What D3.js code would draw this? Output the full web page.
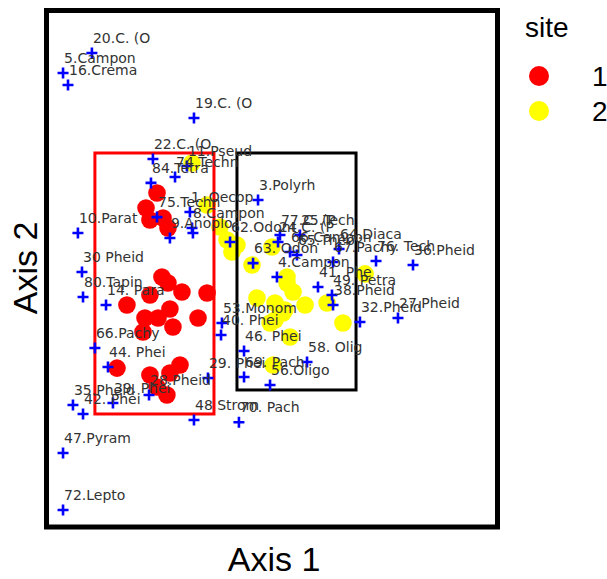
<!DOCTYPE html>
<html>
<head>
<meta charset="utf-8">
<script src="https://cdn.jsdelivr.net/npm/d3@7"></script>
<style>
  body { margin: 0; background: #fff; }
  .lab { font-family: "DejaVu Sans", sans-serif; font-size: 14px; fill: #333; }
  .title { font-family: "Liberation Sans", Arial, sans-serif; fill: #000; }
</style>
</head>
<body>
<div id="chart"></div>
<script>
// species scores (axis 1, axis 2) and their labels
var spLabels = ["20.C. (O","5.Campon","16.Crema","19.C. (O","22.C. (O","11.Pseud","74.Techn","84.Tetra",
  "75.Techn","1. Oecop","8.Campon","","9.Anoplo","10.Parat","30 Pheid","80.Tapin","14. Para","66.Pachy",
  "44. Phei","35.Pheid","42. Phei","39. Phei","28.Pheid","29. Phei","48 Strom","70. Pach","47.Pyram",
  "72.Lepto","53.Monom","40. Phei","46. Phei","58. Olig","69. Pach","56.Oligo","32.Pheid","27.Pheid",
  "36.Pheid","76. Tech","64.Diaca","67.Pachy","41. Phe","49. Petra","38.Pheid","3.Polyrh","62.Odont",
  "63. Odon","4.Campon","24.C. (P","77.C. (P","25.Tech","66.Campon","65.Theo"];
var spAxis1 = [-1.198,-1.39,-1.357,-0.519,-0.792,-0.566,-0.645,-0.805,
  -0.765,-0.546,-0.532,-0.526,-0.679,-1.291,-1.264,-1.257,-1.104,-1.178,
  -1.091,-1.324,-1.257,-1.058,-0.818,-0.426,-0.519,-0.22,-1.39,
  -1.39,-0.333,-0.339,-0.186,0.233,-0.186,-0.013,0.585,0.838,
  0.938,0.692,0.446,0.406,0.306,0.399,0.406,-0.093,-0.279,
  -0.126,0.033,0.04,0.053,0.186,0.12,0.166];
var spAxis2 = [1.42,1.289,1.21,0.992,0.722,0.676,0.604,0.565,
  0.34,0.374,0.268,0.235,0.202,0.235,-0.021,-0.186,-0.239,-0.522,
  -0.647,-0.897,-0.956,-0.884,-0.831,-0.719,-0.996,-1.01,-1.213,
  -1.588,-0.357,-0.436,-0.541,-0.614,-0.713,-0.765,-0.351,-0.324,
  0.025,0.051,0.13,0.044,-0.12,-0.173,-0.239,0.453,0.176,
  0.037,-0.054,0.176,0.222,0.222,0.11,0.091];

// site scores
var site1Axis1 = [-0.765,-0.838,-0.812,-0.725,-0.692,-0.732,-0.692,-0.599,-0.432,-0.812,-0.965,-0.679,
  -0.758,-0.845,-0.492,-0.659,-0.858,-0.612,-0.679,-0.812,-1.031,-0.765,-0.699];
var site1Axis2 = [0.499,0.4,0.321,0.334,0.268,-0.054,-0.094,-0.153,-0.16,-0.173,-0.239,-0.265,
  -0.324,-0.324,-0.324,-0.383,-0.416,-0.634,-0.686,-0.699,-0.654,-0.778,-0.831];
var site2Axis1 = [-0.532,-0.432,-0.346,-0.299,-0.233,-0.266,0,-0.133,0.1,0.14,0.1,-0.1,0.02,0.22,
  0.366,0.086,0.02,-0.013,0.472,0.12,0.007,0.619,0.073];
var site2Axis2 = [0.696,0.42,0.275,0.189,0.156,0.11,0.143,0.025,-0.054,-0.153,-0.094,-0.193,-0.225,
  -0.239,-0.225,-0.272,-0.337,-0.357,-0.357,-0.449,-0.634,-0.034,-0.291];

// site envelopes [x1, x2, y1, y2]
var box1 = [-1.178, -0.386, -0.956, 0.762];
var box2 = [-0.233, 0.559, -0.798, 0.762];

var siteNames = ["1", "2"];
var siteColors = ["#ff0000", "#ffff00"];

var width = 607, height = 579;

var svg = d3.select("#chart").append("svg")
  .attr("width", width)
  .attr("height", height);

var x = d3.scaleLinear().domain([-1.5, 1.5]).range([46.5, 497.5]);
var y = d3.scaleLinear().domain([-1.7, 1.7]).range([527, 10.5]);

var sites = [];
site1Axis1.forEach(function(v, i) { sites.push({a1: v, a2: site1Axis2[i], s: 0}); });
site2Axis1.forEach(function(v, i) { sites.push({a1: v, a2: site2Axis2[i], s: 1}); });

var species = spLabels.map(function(l, i) {
  return {label: l, a1: spAxis1[i], a2: spAxis2[i]};
});

svg.append("g").selectAll("circle")
  .data(sites)
  .enter().append("circle")
  .attr("cx", function(d) { return x(d.a1); })
  .attr("cy", function(d) { return y(d.a2); })
  .attr("r", 8.8)
  .attr("fill", function(d) { return siteColors[d.s]; });

[box1, box2].forEach(function(b, i) {
  svg.append("rect")
    .attr("x", x(b[0]))
    .attr("y", y(b[3]))
    .attr("width", x(b[1]) - x(b[0]))
    .attr("height", y(b[2]) - y(b[3]))
    .attr("fill", "none")
    .attr("stroke", i == 0 ? "#ff0000" : "#000")
    .attr("stroke-width", 3);
});

svg.append("g").selectAll("path")
  .data(species)
  .enter().append("path")
  .attr("d", function(d) {
    var cx = x(d.a1), cy = y(d.a2), s = 5.5;
    return "M" + (cx - s) + "," + cy + "H" + (cx + s) + "M" + cx + "," + (cy - s) + "V" + (cy + s);
  })
  .attr("stroke", "#0000ff")
  .attr("stroke-width", 2.6);

svg.append("g").selectAll("text")
  .data(species)
  .enter().append("text")
  .attr("class", "lab")
  .attr("x", function(d) { return x(d.a1) + 1; })
  .attr("y", function(d) { return y(d.a2) - 10; })
  .text(function(d) { return d.label; });

// panel border
svg.append("rect")
  .attr("x", 46.5).attr("y", 10.5)
  .attr("width", 451).attr("height", 516.5)
  .attr("fill", "none")
  .attr("stroke", "#000")
  .attr("stroke-width", 5);

svg.append("text")
  .attr("class", "title")
  .attr("x", 274).attr("y", 571)
  .attr("text-anchor", "middle")
  .style("font-size", "34px")
  .text("Axis 1");

svg.append("text")
  .attr("class", "title")
  .attr("transform", "translate(37,268) rotate(-90)")
  .attr("text-anchor", "middle")
  .style("font-size", "34px")
  .text("Axis 2");

// legend
var legend = svg.append("g");
legend.append("text")
  .attr("class", "title")
  .attr("x", 525).attr("y", 37)
  .style("font-size", "28px")
  .text("site");

var item = legend.selectAll(".item")
  .data(siteNames)
  .enter().append("g")
  .attr("transform", function(d, i) { return "translate(539," + (76 + i * 35) + ")"; });

item.append("circle")
  .attr("r", 10)
  .attr("fill", function(d, i) { return siteColors[i]; });

item.append("text")
  .attr("class", "title")
  .attr("x", 53)
  .attr("dy", "0.35em")
  .style("font-size", "28px")
  .text(function(d) { return d; });
</script>
</body>
</html>
